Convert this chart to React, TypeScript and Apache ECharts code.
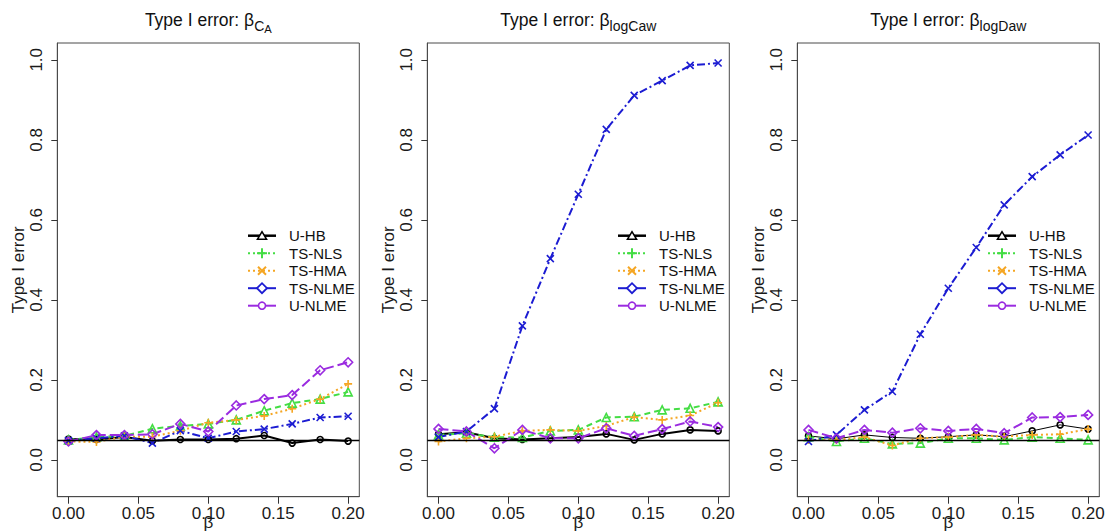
import React, { useEffect, useRef } from 'react';
import * as echarts from 'echarts';

const betas = [0, 0.02, 0.04, 0.06, 0.08, 0.1, 0.12, 0.14, 0.16, 0.18, 0.2];
const methods = ['U-HB', 'TS-NLS', 'TS-HMA', 'TS-NLME', 'U-NLME'];
const xTicks = [0, 0.05, 0.1, 0.15, 0.2];
const yTicks = [0, 0.2, 0.4, 0.6, 0.8, 1.0];
const xTitle = 'β';
const yTitle = 'Type I error';

// Panel 1: beta_CA
const p1UHB = [0.052, 0.051, 0.057, 0.048, 0.051, 0.051, 0.053, 0.061, 0.042, 0.051, 0.047];
const p1TSNLS = [0.05, 0.057, 0.06, 0.078, 0.085, 0.09, 0.1, 0.123, 0.142, 0.152, 0.17];
const p1TSHMA = [0.046, 0.045, 0.058, 0.058, 0.073, 0.093, 0.1, 0.11, 0.128, 0.152, 0.19];
const p1TSNLME = [0.048, 0.054, 0.06, 0.042, 0.073, 0.054, 0.071, 0.077, 0.09, 0.106, 0.109];
const p1UNLME = [0.046, 0.062, 0.062, 0.064, 0.09, 0.071, 0.136, 0.152, 0.162, 0.224, 0.244];

// Panel 2: beta_logCaw
const p2UHB = [0.064, 0.069, 0.054, 0.051, 0.054, 0.057, 0.065, 0.05, 0.065, 0.075, 0.0725];
const p2TSNLS = [0.0625, 0.0667, 0.0567, 0.056, 0.0725, 0.075, 0.106, 0.108, 0.125, 0.129, 0.145];
const p2TSHMA = [0.046, 0.054, 0.058, 0.0725, 0.075, 0.0725, 0.085, 0.107, 0.1, 0.111, 0.143];
const p2TSNLME = [0.057, 0.071, 0.128, 0.335, 0.503, 0.664, 0.826, 0.911, 0.948, 0.986, 0.992];
const p2UNLME = [0.0775, 0.071, 0.029, 0.075, 0.054, 0.054, 0.079, 0.06, 0.077, 0.096, 0.082];

// Panel 3: beta_logDaw
const p3UHB = [0.06, 0.0525, 0.0625, 0.056, 0.054, 0.058, 0.0625, 0.058, 0.0725, 0.0875, 0.077];
const p3TSNLS = [0.058, 0.046, 0.054, 0.04, 0.042, 0.054, 0.054, 0.05, 0.057, 0.054, 0.05];
const p3TSHMA = [0.05, 0.05, 0.057, 0.036, 0.054, 0.057, 0.0625, 0.058, 0.0625, 0.064, 0.077];
const p3TSNLME = [0.046, 0.0625, 0.125, 0.171, 0.314, 0.429, 0.531, 0.6375, 0.708, 0.7625, 0.812];
const p3UNLME = [0.075, 0.054, 0.075, 0.068, 0.079, 0.0725, 0.0775, 0.0667, 0.106, 0.107, 0.1125];

const panels = [
  { sub: ['C', 'A'], data: [p1UHB, p1TSNLS, p1TSHMA, p1TSNLME, p1UNLME] },
  { sub: ['logCaw'], data: [p2UHB, p2TSNLS, p2TSHMA, p2TSNLME, p2UNLME] },
  { sub: ['logDaw'], data: [p3UHB, p3TSNLS, p3TSHMA, p3TSNLME, p3UNLME] },
];

const refLevel = 0.05;

const COLORS = ['#000000', '#44dd44', '#f5a623', '#1c1cd2', '#9a2be0'];
const DASH: any[] = ['solid', [6, 4], [2, 3], [8, 3, 2, 3], [10, 4]];
const SYMBOLS = [
  'circle',
  'triangle',
  'path://M0,5L10,5M5,0L5,10',
  'path://M0,0L10,10M10,0L0,10',
  'diamond',
];
const SYMBOL_SIZES = [6, 8, 8, 7, 9];

const FONT = 'Liberation Sans';
const GRID_LEFT = 57.3;
const GRID_TOP = 43;
const GRID_W = 302;
const GRID_H = 453.7;
const PANEL_STEP = 370;

function measure(text: string, font: string): number {
  const c = document.createElement('canvas').getContext('2d');
  if (!c) return text.length * 8;
  c.font = font;
  return c.measureText(text).width;
}

export default function App() {
  const ref = useRef<HTMLDivElement>(null);
  useEffect(() => {
    document.body.style.margin = '0';
    if (!ref.current) return;
    const chart = echarts.init(ref.current, undefined, { renderer: 'svg' });

    const grids: any[] = [];
    const xAxes: any[] = [];
    const yAxes: any[] = [];
    const series: any[] = [];
    const graphics: any[] = [];

    panels.forEach((p, i) => {
      const left = GRID_LEFT + PANEL_STEP * i;
      grids.push({
        left,
        top: GRID_TOP,
        width: GRID_W,
        height: GRID_H,
        containLabel: false,
        outerBoundsMode: 'none',
        show: true,
        borderColor: '#4a4a4a',
        borderWidth: 1,
        backgroundColor: 'transparent',
      });
      xAxes.push({
        type: 'value',
        gridIndex: i,
        min: -0.008,
        max: 0.208,
        axisLine: { show: true, onZero: false, lineStyle: { color: '#4a4a4a', width: 1 } },
        axisTick: { show: true, length: 7, customValues: xTicks, lineStyle: { color: '#333' } },
        axisLabel: {
          customValues: xTicks,
          formatter: (v: number) => v.toFixed(2),
          fontSize: 17,
          color: '#1a1a1a',
          margin: 8,
          fontFamily: FONT,
        },
        splitLine: { show: false },
      });
      yAxes.push({
        type: 'value',
        gridIndex: i,
        min: -0.092,
        max: 1.042,
        axisLine: { show: true, onZero: false, lineStyle: { color: '#4a4a4a', width: 1 } },
        axisTick: { show: true, length: 6, customValues: yTicks, lineStyle: { color: '#333' } },
        axisLabel: {
          customValues: yTicks,
          formatter: (v: number) => v.toFixed(1),
          fontSize: 17,
          rotate: 90,
          color: '#1a1a1a',
          margin: 12,
          fontFamily: FONT,
        },
        splitLine: { show: false },
        name: yTitle,
        nameLocation: 'middle',
        nameGap: 27,
        nameTextStyle: { fontSize: 17, color: '#1a1a1a', fontFamily: FONT },
      });

      p.data.forEach((vals, k) => {
        const c = COLORS[k];
        const s: any = {
          type: 'line',
          name: methods[k],
          xAxisIndex: i,
          yAxisIndex: i,
          data: betas.map((b, j) => [b, vals[j]]),
          symbol: SYMBOLS[k],
          symbolSize: SYMBOL_SIZES[k],
          showAllSymbol: true,
          lineStyle: {
            color: c,
            width: k === 0 && i === 2 ? 1 : 2,
            type: DASH[k],
          },
          itemStyle: { color: 'rgba(0,0,0,0)', borderColor: c, borderWidth: 1.6 },
          color: c,
          z: 3,
          silent: true,
        };
        if (k === 0) {
          s.markLine = {
            silent: true,
            symbol: 'none',
            label: { show: false },
            lineStyle: { color: '#000', width: 1.3, type: 'solid' },
            data: [{ yAxis: refLevel }],
          };
        }
        series.push(s);
      });

      const cx = left + GRID_W / 2;

      // x-axis title
      graphics.push({
        type: 'text',
        x: cx,
        y: 522,
        style: {
          text: xTitle,
          font: `17px "${FONT}"`,
          fill: '#1a1a1a',
          align: 'center',
          textAlign: 'center',
          verticalAlign: 'middle',
          textVerticalAlign: 'middle',
        },
      });

      // Title
      const mainFont = `17.5px "${FONT}"`;
      const subFont1 = `14px "${FONT}"`;
      const subFont2 = `11.2px "${FONT}"`;
      const mainText = 'Type I error: β';
      const wMain = measure(mainText, mainFont);
      const subW = p.sub.map((t, j) => measure(t, j === 0 ? subFont1 : subFont2));
      const total = wMain + subW.reduce((a, b) => a + b, 0);
      let x = cx - total / 2;
      graphics.push({
        type: 'text',
        x,
        y: 20,
        style: {
          text: mainText,
          font: mainFont,
          fill: '#111',
          align: 'left',
          textAlign: 'left',
          verticalAlign: 'middle',
          textVerticalAlign: 'middle',
        },
      });
      x += wMain;
      p.sub.forEach((t, j) => {
        graphics.push({
          type: 'text',
          x,
          y: j === 0 ? 25.5 : 28.8,
          style: {
            text: t,
            font: j === 0 ? subFont1 : subFont2,
            fill: '#111',
            align: 'left',
            textAlign: 'left',
            verticalAlign: 'middle',
            textVerticalAlign: 'middle',
          },
        });
        x += subW[j];
      });

      // Legend
      const ox = PANEL_STEP * i;
      methods.forEach((m, k) => {
        const y = 235.7 + 17.5 * k;
        const c = COLORS[k];
        const mx = 262 + ox;
        graphics.push({
          type: 'line',
          shape: { x1: 248 + ox, y1: y, x2: 276 + ox, y2: y },
          style: {
            stroke: c,
            lineWidth: k === 0 ? 2.5 : 2,
            lineDash: k === 1 || k === 2 ? [2, 3] : null,
          },
        });
        if (k === 0) {
          graphics.push({
            type: 'polygon',
            shape: { points: [[mx - 4.5, y + 3.5], [mx + 4.5, y + 3.5], [mx, y - 4]] },
            style: { fill: '#fff', stroke: c, lineWidth: 1.6 },
          });
        } else if (k === 1) {
          graphics.push({ type: 'line', shape: { x1: mx - 5, y1: y, x2: mx + 5, y2: y }, style: { stroke: c, lineWidth: 2 } });
          graphics.push({ type: 'line', shape: { x1: mx, y1: y - 5, x2: mx, y2: y + 5 }, style: { stroke: c, lineWidth: 2 } });
        } else if (k === 2) {
          graphics.push({ type: 'line', shape: { x1: mx - 4, y1: y - 4, x2: mx + 4, y2: y + 4 }, style: { stroke: c, lineWidth: 2 } });
          graphics.push({ type: 'line', shape: { x1: mx - 4, y1: y + 4, x2: mx + 4, y2: y - 4 }, style: { stroke: c, lineWidth: 2 } });
        } else if (k === 3) {
          graphics.push({
            type: 'polygon',
            shape: { points: [[mx - 5, y], [mx, y - 5], [mx + 5, y], [mx, y + 5]] },
            style: { fill: '#fff', stroke: c, lineWidth: 1.8 },
          });
        } else {
          graphics.push({
            type: 'circle',
            shape: { cx: mx, cy: y, r: 3.5 },
            style: { fill: '#fff', stroke: c, lineWidth: 1.6 },
          });
        }
        graphics.push({
          type: 'text',
          x: 289 + ox,
          y,
          style: {
            text: m,
            font: `15px "${FONT}"`,
            fill: '#111',
            align: 'left',
            textAlign: 'left',
            verticalAlign: 'middle',
            textVerticalAlign: 'middle',
          },
        });
      });
    });

    chart.setOption({
      animation: false,
      backgroundColor: '#fff',
      textStyle: { fontFamily: FONT },
      grid: grids,
      xAxis: xAxes,
      yAxis: yAxes,
      series,
      graphic: { elements: graphics },
    });
    return () => chart.dispose();
  }, []);
  return <div ref={ref} style={{ width: 1114, height: 532 }} />;
}
